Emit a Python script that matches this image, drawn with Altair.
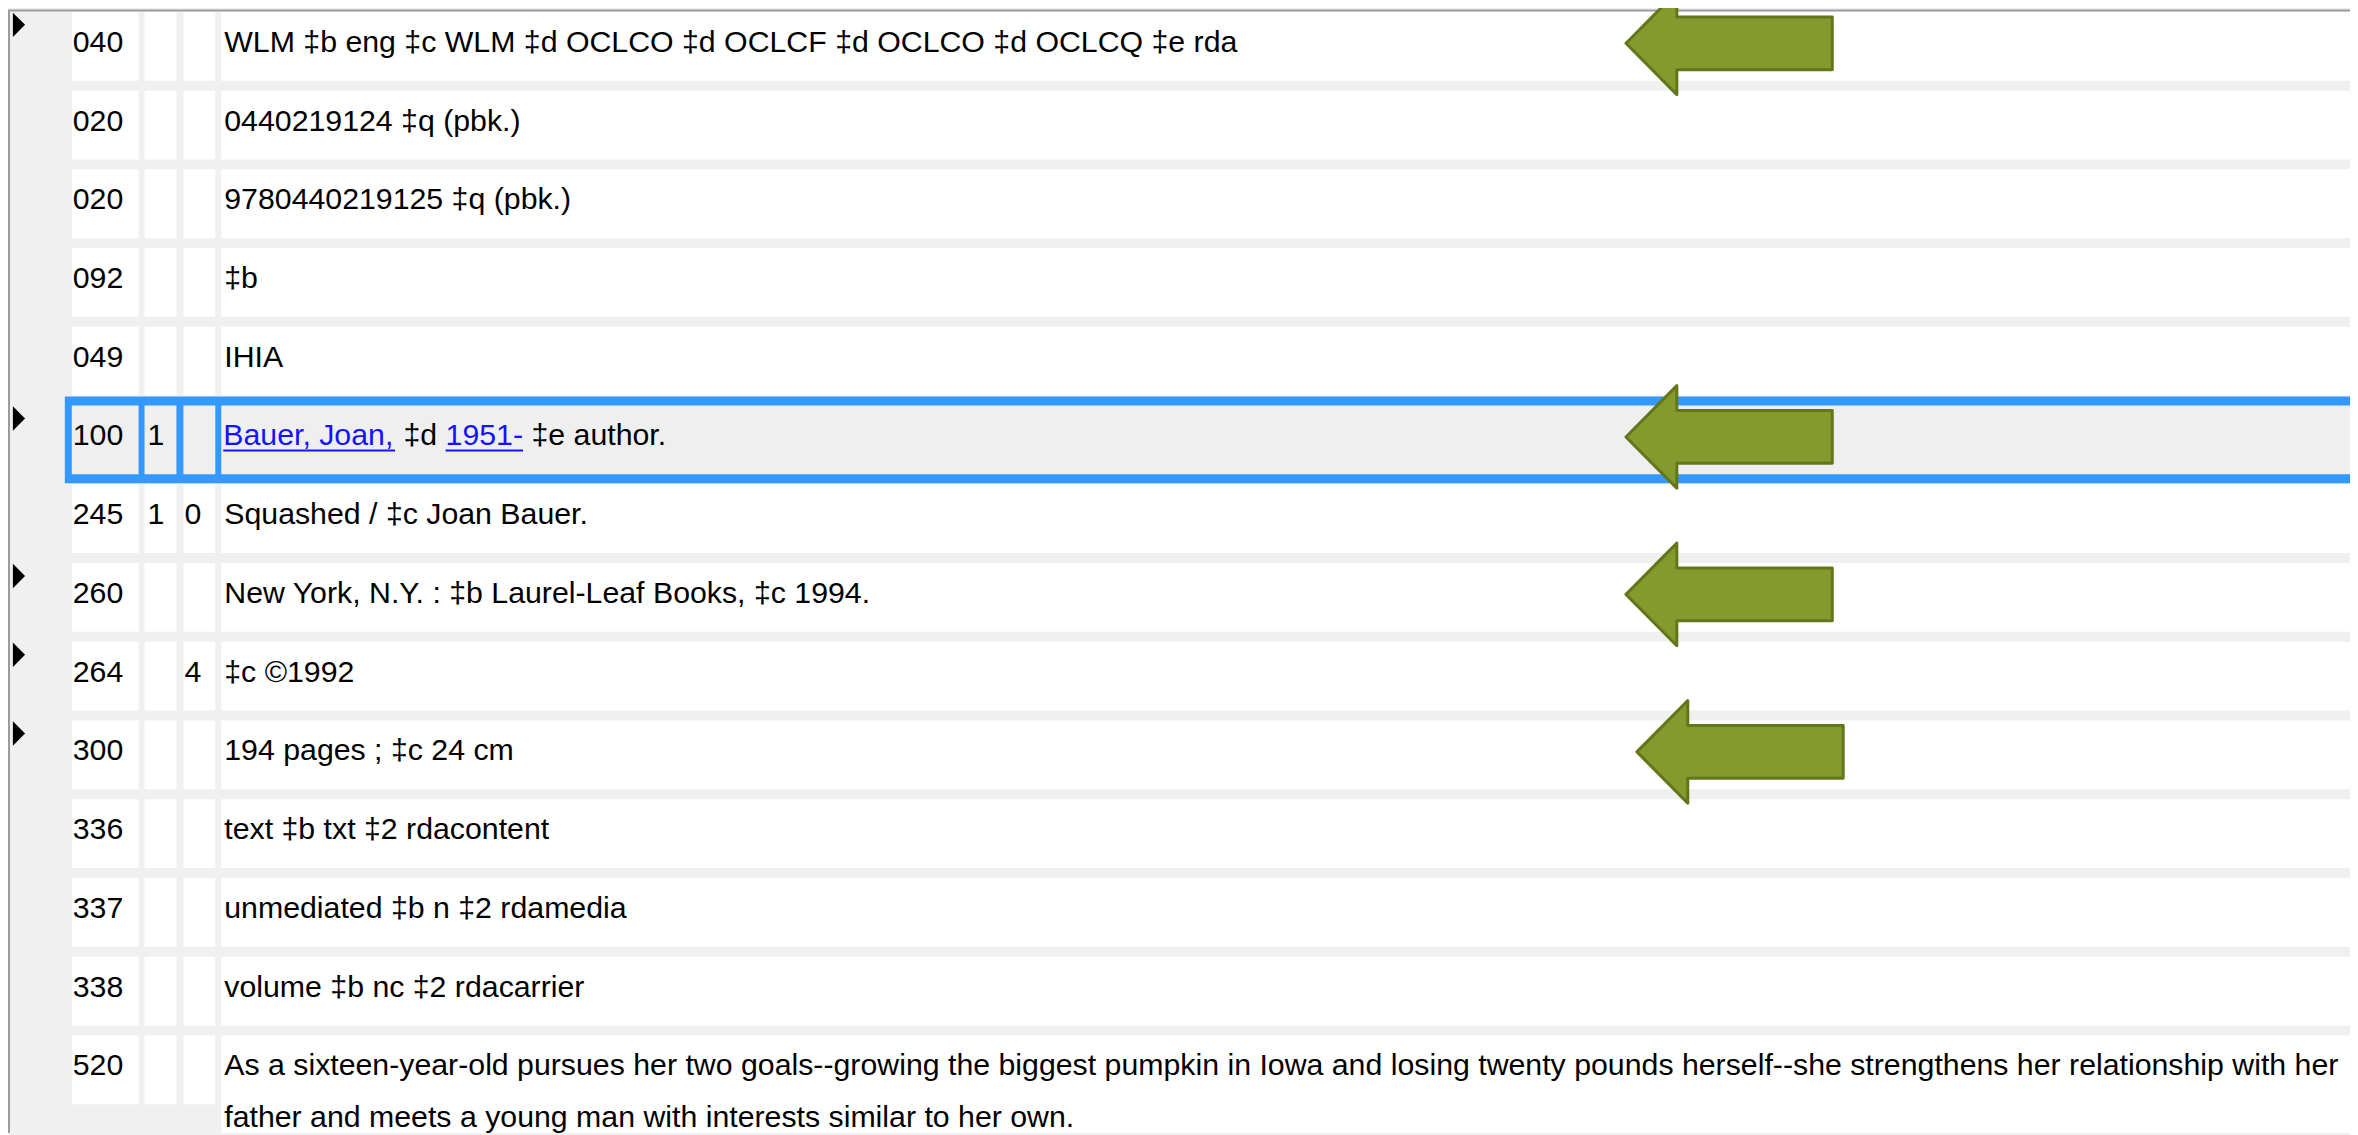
import altair as alt
import pandas as pd

# ---------------- data ----------------
tags = ["040", "020", "020", "092", "049", "100", "245", "260", "264", "300",
        "336", "337", "338", "520"]
ind1 = ["", "", "", "", "", "1", "1", "", "", "", "", "", "", ""]
ind2 = ["", "", "", "", "", "", "0", "", "4", "", "", "", "", ""]
fields = [
    ["WLM ‡b eng ‡c WLM ‡d OCLCO ‡d OCLCF ‡d OCLCO ‡d OCLCQ ‡e rda"],
    ["0440219124 ‡q (pbk.)"],
    ["9780440219125 ‡q (pbk.)"],
    ["‡b"],
    ["IHIA"],
    None,  # row 100 is drawn from its linked segments below
    ["Squashed / ‡c Joan Bauer."],
    ["New York, N.Y. : ‡b Laurel-Leaf Books, ‡c 1994."],
    ["‡c ©1992"],
    ["194 pages ; ‡c 24 cm"],
    ["text ‡b txt ‡2 rdacontent"],
    ["unmediated ‡b n ‡2 rdamedia"],
    ["volume ‡b nc ‡2 rdacarrier"],
    ["As a sixteen-year-old pursues her two goals--growing the biggest pumpkin in Iowa and losing twenty pounds herself--she strengthens her relationship with her",
     "father and meets a young man with interests similar to her own."],
]
# row 100: (text, is_link)
segments_100 = [("Bauer, Joan,", True), ("‡d", False), ("1951-", True), ("‡e author.", False)]
selected_row = 5                      # the highlighted "100" row
marker_rows = [0, 5, 7, 8, 9]         # rows with the small black triangle
arrow_rows = [0, 5, 7, 9]             # rows pointed at by green arrows

# ---------------- layout ----------------
W, H = 2358, 1135
ROW_TOP, PITCH, CELL_H = 10, 79, 69
COLS = [(72, 139), (145, 177), (184, 216), (222, W)]
TEXT_X = [73, 148, 185, 225]
BASE0 = 50
LINE_GAP = 52
FONT = "Liberation Sans"
FONT_SIZE = 30.4
EM_EQ = 30.4  # size used for measuring widths

ARIAL = {'B': 667, 'a': 556, 'u': 556, 'e': 556, 'r': 333, ',': 278, ' ': 278,
         'J': 500, 'o': 556, 'n': 556, '‡': 556, 'd': 556, '1': 556, '9': 556,
         '5': 556, '-': 333, 't': 278, 'h': 556, '.': 278}


def tw(s):
    return sum(ARIAL.get(c, 556) for c in s) / 1000.0 * EM_EQ


def top(i):
    return ROW_TOP + PITCH * i


# cells
cell_rows = []
for i in range(len(tags)):
    for c, (x0, x1) in enumerate(COLS):
        y2 = top(i) + CELL_H
        if i == len(tags) - 1 and c == 3:
            y2 = H
        cell_rows.append({"x": x0, "x2": x1, "y": top(i), "y2": y2,
                          "fill": "#efefef" if i == selected_row else "#ffffff"})
cells = pd.DataFrame(cell_rows)

hl = pd.DataFrame([{"x": 65, "x2": W, "y": top(selected_row) - 9,
                    "y2": top(selected_row) + CELL_H + 9}])

# texts
txt = []
for i, t in enumerate(tags):
    b = BASE0 + PITCH * i
    txt.append({"x": TEXT_X[0], "y": b, "t": t, "c": "#000000"})
    if ind1[i]:
        txt.append({"x": TEXT_X[1], "y": b, "t": ind1[i], "c": "#000000"})
    if ind2[i]:
        txt.append({"x": TEXT_X[2], "y": b, "t": ind2[i], "c": "#000000"})
    if fields[i] is not None:
        for j, line in enumerate(fields[i]):
            txt.append({"x": TEXT_X[3], "y": b + j * LINE_GAP, "t": line, "c": "#000000"})

underl = []
xpos = TEXT_X[3] - 1
b5 = BASE0 + PITCH * selected_row
for s, link in segments_100:
    txt.append({"x": xpos, "y": b5, "t": s, "c": "#1414ff" if link else "#000000"})
    if link:
        underl.append({"x": xpos, "x2": xpos + tw(s), "y": b5 + 5})
    xpos += tw(s + " ")
texts = pd.DataFrame(txt)
underlines = pd.DataFrame(underl)

markers = pd.DataFrame([{"x": 19, "y": top(i) + 13} for i in marker_rows])
arrow_nudge = [0, 0, 0, 11]
arrows = pd.DataFrame([{"x": 1735 + arrow_nudge[k], "y": top(r) + CELL_H / 2 - 3}
                       for k, r in enumerate(arrow_rows)])

frame = pd.DataFrame([
    {"x": 8, "x2": W, "y": 8.5, "y2": 8.5},
    {"x": 9, "x2": 9, "y": 8, "y2": H},
])

# ---------------- chart ----------------
xs = alt.Scale(domain=[8, W], nice=False, zero=False)
ys = alt.Scale(domain=[8, H], nice=False, zero=False, reverse=True)


def X(f="x"):
    return alt.X(f"{f}:Q", scale=xs, axis=None)


def Y(f="y"):
    return alt.Y(f"{f}:Q", scale=ys, axis=None)


frame_l = alt.Chart(frame).mark_rule(color="#9c9c9c", strokeWidth=2).encode(
    x=X(), x2="x2:Q", y=Y(), y2="y2:Q")

hl_l = alt.Chart(hl).mark_rect(color="#3399ff").encode(
    x=X(), x2="x2:Q", y=Y(), y2="y2:Q")

cells_l = alt.Chart(cells).mark_rect().encode(
    x=X(), x2="x2:Q", y=Y(), y2="y2:Q",
    fill=alt.Fill("fill:N", scale=None))

ul_l = alt.Chart(underlines).mark_rule(color="#1414ff", strokeWidth=2).encode(
    x=X(), x2="x2:Q", y=Y())

tri_l = alt.Chart(markers).mark_point(
    shape="M-0.5,-1L0.5,0L-0.5,1Z", size=600, filled=True,
    color="#000000", opacity=1).encode(x=X(), y=Y())

arrow_path = ("M-1,0L-0.507,-0.4976L-0.507,-0.256L1,-0.256L1,0.256"
              "L-0.507,0.256L-0.507,0.4976Z")
arr_l = alt.Chart(arrows).mark_point(
    shape=arrow_path, size=207 * 207, filled=True, fill="#84992e",
    stroke="#62761a", strokeWidth=3, opacity=1, strokeJoin="round").encode(
    x=X(), y=Y())

text_l = alt.Chart(texts).mark_text(
    font=FONT, fontSize=FONT_SIZE, align="left", baseline="alphabetic").encode(
    x=X(), y=Y(), text="t:N", color=alt.Color("c:N", scale=None))

chart = alt.layer(frame_l, hl_l, cells_l, ul_l, tri_l, arr_l, text_l).properties(
    width=W - 8, height=H - 8, padding=0,
    autosize=alt.AutoSizeParams(type="none")
).configure(background="#f0f0f0").configure_view(strokeWidth=0)

chart.save("out.html", embed_options={"renderer": "svg", "actions": False})
